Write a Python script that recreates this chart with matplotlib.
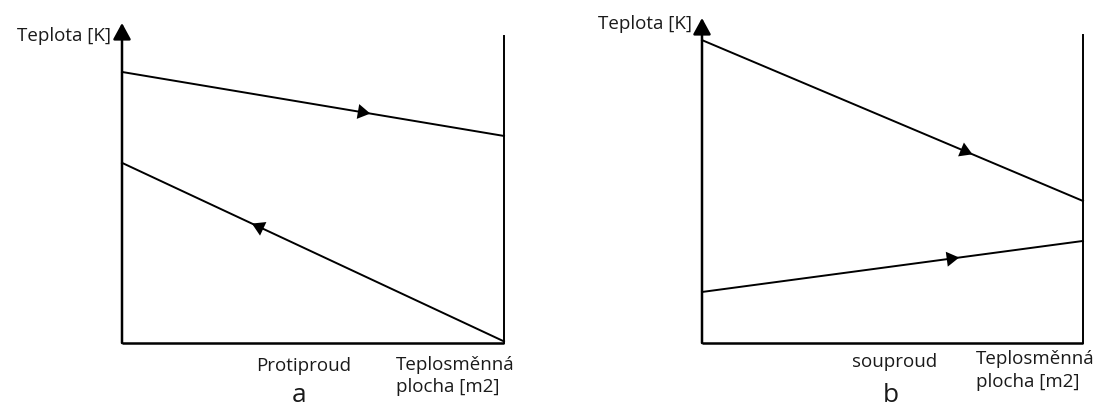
import numpy as np
import matplotlib
matplotlib.use("Agg")
import matplotlib.pyplot as plt

plt.rcParams['font.family'] = ['Open Sans', 'DejaVu Sans']

W, H = 1101, 409

# panel a - protiproud (x = plocha 0..1, y = teplota 0..100)
a_hot_x = [0.0, 1.0]
a_hot_y = [84.7, 64.7]
a_cold_x = [0.0, 1.0]
a_cold_y = [56.3, 0.5]
a_hot_arrow = 0.62
a_cold_arrow = 0.37

# panel b - souproud
b_hot_x = [0.0, 1.0]
b_hot_y = [93.2, 43.7]
b_cold_x = [0.0, 1.0]
b_cold_y = [15.7, 31.4]
b_hot_arrow = 0.68
b_cold_arrow = 0.645

y_label = "Teplota [K]"
x_label = ["Teplosměnná", "plocha [m2]"]
titles = ["Protiproud", "souproud"]
letters = ["a", "b"]


def fx(x):
    return x / W


def fy(y):
    return 1 - y / H


def arrow_on_line(ax, xs, ys, t, left=False):
    # little triangle in the middle of the line
    x = xs[0] + (xs[1] - xs[0]) * t
    y = ys[0] + (ys[1] - ys[0]) * t
    dx = 0.03 if not left else -0.03
    slope = (ys[1] - ys[0]) / (xs[1] - xs[0])
    ax.annotate('', xy=(x + dx, y + dx * slope), xytext=(x, y),
                arrowprops=dict(arrowstyle='-|>,head_length=0.5,head_width=0.3',
                                mutation_scale=18, color='black', lw=0,
                                shrinkA=0, shrinkB=0))


def panel(left, right, bottom, top, right_top, hot, cold, hot_t, cold_t, cold_left):
    ax = fig.add_axes([fx(left), fy(bottom), fx(right - left), (bottom - top) / H])
    ax.set_xlim(0, 1)
    ax.set_ylim(0, 100)
    ax.axis('off')
    # axes
    ax.plot([0, 1], [0, 0], color='black', lw=1.8, clip_on=False, solid_capstyle='butt')
    ax.annotate('', xy=(0, 100), xytext=(0, 0),
                arrowprops=dict(arrowstyle='-|>,head_length=0.55,head_width=0.3',
                                mutation_scale=18, color='black',
                                lw=1.8, shrinkA=0, shrinkB=0))
    ax.plot([1, 1], [0, right_top], color='black', lw=1.4, clip_on=False)
    ax.plot(hot[0], hot[1], color='black', lw=1.4, clip_on=False)
    ax.plot(cold[0], cold[1], color='black', lw=1.4, clip_on=False)
    arrow_on_line(ax, hot[0], hot[1], hot_t)
    arrow_on_line(ax, cold[0], cold[1], cold_t, left=cold_left)
    return ax


fig = plt.figure(figsize=(W / 100, H / 100), dpi=100)

panel(122, 504, 343, 23, 96, (a_hot_x, a_hot_y), (a_cold_x, a_cold_y),
      a_hot_arrow, a_cold_arrow, True)
panel(702, 1083, 343, 18, 94.8, (b_hot_x, b_hot_y), (b_cold_x, b_cold_y),
      b_hot_arrow, b_cold_arrow, False)

fs = 13.5
col = '#1a1a1a'
fig.text(fx(111), fy(41), y_label, ha='right', va='baseline', fontsize=fs, color=col)
fig.text(fx(692), fy(29), y_label, ha='right', va='baseline', fontsize=fs, color=col)

fig.text(fx(304), fy(371), titles[0], ha='center', va='baseline', fontsize=fs, color=col)
fig.text(fx(895), fy(367), titles[1], ha='center', va='baseline', fontsize=fs, color=col)

fig.text(fx(396), fy(370), x_label[0], ha='left', va='baseline', fontsize=fs, color=col)
fig.text(fx(396), fy(392), x_label[1], ha='left', va='baseline', fontsize=fs, color=col)
fig.text(fx(976), fy(364), x_label[0], ha='left', va='baseline', fontsize=fs, color=col)
fig.text(fx(976), fy(387), x_label[1], ha='left', va='baseline', fontsize=fs, color=col)

fig.text(fx(299), fy(408), letters[0], ha='center', va='bottom', fontsize=19, color=col)
fig.text(fx(891), fy(408), letters[1], ha='center', va='bottom', fontsize=19, color=col)

fig.savefig("out.png", dpi=100)
